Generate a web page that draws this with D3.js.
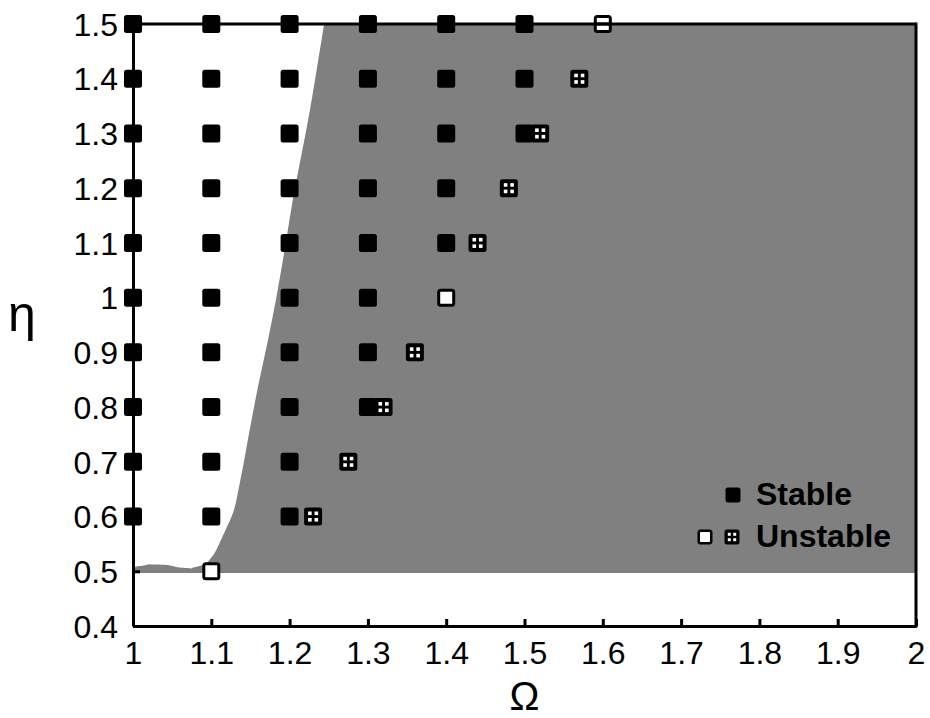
<!DOCTYPE html>
<html>
<head>
<meta charset="utf-8">
<script src="https://cdn.jsdelivr.net/npm/d3@7"></script>
<style>
  body { margin: 0; background: #fff; }
  svg { display: block; }
  text { font-family: "Liberation Sans", Arial, sans-serif; }
</style>
</head>
<body>
<svg id="chart" width="930" height="718"></svg>
<script>
// ---- data ----
const xTicks = [1, 1.1, 1.2, 1.3, 1.4, 1.5, 1.6, 1.7, 1.8, 1.9, 2];
const yTicks = [0.4, 0.5, 0.6, 0.7, 0.8, 0.9, 1.0, 1.1, 1.2, 1.3, 1.4, 1.5];

// stable points (filled squares)
const stableOmega = [
  1, 1, 1, 1, 1, 1, 1, 1, 1, 1,
  1.1, 1.1, 1.1, 1.1, 1.1, 1.1, 1.1, 1.1, 1.1, 1.1,
  1.2, 1.2, 1.2, 1.2, 1.2, 1.2, 1.2, 1.2, 1.2, 1.2,
  1.3, 1.3, 1.3, 1.3, 1.3, 1.3, 1.3, 1.3,
  1.4, 1.4, 1.4, 1.4, 1.4,
  1.5, 1.5, 1.5
];
const stableEta = [
  0.6, 0.7, 0.8, 0.9, 1.0, 1.1, 1.2, 1.3, 1.4, 1.5,
  0.6, 0.7, 0.8, 0.9, 1.0, 1.1, 1.2, 1.3, 1.4, 1.5,
  0.6, 0.7, 0.8, 0.9, 1.0, 1.1, 1.2, 1.3, 1.4, 1.5,
  0.8, 0.9, 1.0, 1.1, 1.2, 1.3, 1.4, 1.5,
  1.1, 1.2, 1.3, 1.4, 1.5,
  1.3, 1.4, 1.5
];

// unstable points, open squares
const openOmega = [1.1, 1.4, 1.6];
const openEta = [0.5, 1.0, 1.5];

// unstable points, gridded squares
const gridOmega = [1.23, 1.275, 1.32, 1.36, 1.44, 1.48, 1.52, 1.57];
const gridEta = [0.6, 0.7, 0.8, 0.9, 1.1, 1.2, 1.3, 1.4];

// boundary of the shaded region (left/upper-left edge)
const boundaryOmega = [1.0, 1.0, 1.02, 1.04, 1.06, 1.075, 1.09, 1.10, 1.11, 1.118, 1.126, 1.137, 1.149, 1.16, 1.172, 1.183, 1.194, 1.204, 1.215, 1.226, 1.235, 1.244, 2.0, 2.0];
const boundaryEta   = [0.497, 0.507, 0.513, 0.512, 0.507, 0.505, 0.512, 0.525, 0.55, 0.575, 0.6, 0.666, 0.758, 0.84, 0.92, 1.0, 1.09, 1.178, 1.26, 1.343, 1.42, 1.5, 1.5, 0.497];

// ---- layout ----
const svg = d3.select("#chart");
const x = d3.scaleLinear().domain([1, 2]).range([133, 916]);
const y = d3.scaleLinear().domain([0.4, 1.5]).range([626, 24]);
const fmt = d => String(+d.toFixed(1));

// shaded region
const region = boundaryOmega.map((o, i) => [x(o), y(boundaryEta[i])]);
svg.append("path")
  .attr("d", d3.line().curve(d3.curveMonotoneY)(region.slice(0, 22)) + "L" + region.slice(22).map(p => p.join(",")).join("L") + "Z")
  .attr("fill", "#808080");

// markers
function stableMarker(g, cx, cy, s) {
  g.append("rect").attr("x", cx - s / 2).attr("y", cy - s / 2)
    .attr("width", s).attr("height", s).attr("rx", 2.5).attr("fill", "#000");
}
function openMarker(g, cx, cy, s) {
  const sw = s >= 16 ? 3 : 2.5;
  g.append("rect").attr("x", cx - s / 2 + sw / 2).attr("y", cy - s / 2 + sw / 2)
    .attr("width", s - sw).attr("height", s - sw).attr("rx", 2)
    .attr("fill", "#fff").attr("stroke", "#000").attr("stroke-width", sw);
}
function gridMarker(g, cx, cy, s) {
  stableMarker(g, cx, cy, s);
  const w = s * 0.2, off1 = -s * 0.28, off2 = s * 0.08;
  [[off1, off1], [off2, off1], [off1, off2], [off2, off2]].forEach(([dx, dy]) => {
    g.append("rect").attr("x", cx + dx).attr("y", cy + dy)
      .attr("width", w).attr("height", w).attr("fill", "#fff");
  });
}

const marks = svg.append("g");
stableOmega.forEach((o, i) => stableMarker(marks, x(o), y(stableEta[i]), 18));
gridOmega.forEach((o, i) => gridMarker(marks, x(o), y(gridEta[i]), 18));
openOmega.forEach((o, i) => openMarker(marks, x(o), y(openEta[i]), 18));

// axes
const xAxis = d3.axisBottom(x).tickValues(xTicks).tickFormat(fmt).tickSizeInner(-7).tickSizeOuter(0).tickPadding(15);
const yAxis = d3.axisLeft(y).tickValues(yTicks).tickFormat(fmt).tickSizeInner(-7).tickSizeOuter(0).tickPadding(15);

const gx = svg.append("g").attr("transform", "translate(0,626)").call(xAxis);
const gy = svg.append("g").attr("transform", "translate(133,0)").call(yAxis);
[gx, gy].forEach(g => {
  g.select(".domain").attr("stroke", "#000").attr("stroke-width", 3);
  g.selectAll(".tick line").attr("stroke", "#000").attr("stroke-width", 3);
  g.selectAll(".tick text").attr("fill", "#000")
    .style("font-family", "'Liberation Sans', Arial, sans-serif").style("font-size", "32px");
});
gx.selectAll(".tick text").attr("dy", "0.71em");
gy.selectAll(".tick text").attr("dy", "0.35em");

// frame top and right
svg.append("line").attr("x1", x(1)).attr("x2", x(2)).attr("y1", y(1.5)).attr("y2", y(1.5))
  .attr("stroke", "#000").attr("stroke-width", 3);
svg.append("line").attr("x1", x(2)).attr("x2", x(2)).attr("y1", y(1.5) - 1.5).attr("y2", y(0.4) + 1.5)
  .attr("stroke", "#000").attr("stroke-width", 3);
// the top frame line shows through the open marker on the top edge
openOmega.forEach((o, i) => {
  if (openEta[i] === 1.5) {
    svg.append("line").attr("x1", x(o) - 9).attr("x2", x(o) + 9).attr("y1", y(1.5)).attr("y2", y(1.5))
      .attr("stroke", "#000").attr("stroke-width", 3);
  }
});

// axis titles
svg.append("text").attr("x", x(1.5)).attr("y", 710).attr("text-anchor", "middle")
  .style("font-size", "40px").text("Ω");
svg.append("text").attr("x", 22).attr("y", 318).attr("text-anchor", "middle")
  .attr("dominant-baseline", "middle")
  .style("font-size", "50px").text("η");

// legend
const lg = svg.append("g");
stableMarker(lg, 733, 495, 15);
openMarker(lg, 705, 537, 15);
gridMarker(lg, 732, 537, 15);
lg.append("text").attr("x", 756).attr("y", 505).style("font-size", "32px").style("font-weight", "bold").text("Stable");
lg.append("text").attr("x", 756).attr("y", 547).style("font-size", "32px").style("font-weight", "bold").text("Unstable");
</script>
</body>
</html>
